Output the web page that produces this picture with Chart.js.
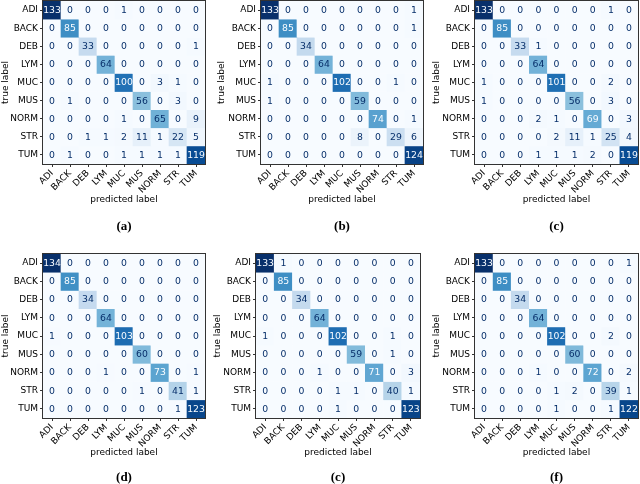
<!DOCTYPE html>
<html>
<head>
<meta charset="utf-8">
<script src="https://cdn.jsdelivr.net/npm/chart.js@4.4.0/dist/chart.umd.min.js"></script>
<style>
  body { margin: 0; background: #fff; }
  #page { position: relative; width: 640px; height: 484px; overflow: hidden; background: #fff; }
  #page canvas { position: absolute; left: 0; top: 0; }
  .cap { position: absolute; width: 60px; margin-left: -30px; text-align: center;
         font: bold 13px "Liberation Serif", serif; color: #000; line-height: 14px; }
</style>
</head>
<body>
<div id="page"></div>
<script>
// class names (rows = true label, columns = predicted label)
const classes = ['ADI', 'BACK', 'DEB', 'LYM', 'MUC', 'MUS', 'NORM', 'STR', 'TUM'];

const matrixA = [
    [133, 0, 0, 0, 1, 0, 0, 0, 0],
    [0, 85, 0, 0, 0, 0, 0, 0, 0],
    [0, 0, 33, 0, 0, 0, 0, 0, 1],
    [0, 0, 0, 64, 0, 0, 0, 0, 0],
    [0, 0, 0, 0, 100, 0, 3, 1, 0],
    [0, 1, 0, 0, 0, 56, 0, 3, 0],
    [0, 0, 0, 0, 1, 0, 65, 0, 9],
    [0, 0, 1, 1, 2, 11, 1, 22, 5],
    [0, 1, 0, 0, 1, 1, 1, 1, 119]
];
const matrixB = [
    [133, 0, 0, 0, 0, 0, 0, 0, 1],
    [0, 85, 0, 0, 0, 0, 0, 0, 1],
    [0, 0, 34, 0, 0, 0, 0, 0, 0],
    [0, 0, 0, 64, 0, 0, 0, 0, 0],
    [1, 0, 0, 0, 102, 0, 0, 1, 0],
    [1, 0, 0, 0, 0, 59, 0, 0, 0],
    [0, 0, 0, 0, 0, 0, 74, 0, 1],
    [0, 0, 0, 0, 0, 8, 0, 29, 6],
    [0, 0, 0, 0, 0, 0, 0, 0, 124]
];
const matrixC = [
    [133, 0, 0, 0, 0, 0, 0, 1, 0],
    [0, 85, 0, 0, 0, 0, 0, 0, 0],
    [0, 0, 33, 1, 0, 0, 0, 0, 0],
    [0, 0, 0, 64, 0, 0, 0, 0, 0],
    [1, 0, 0, 0, 101, 0, 0, 2, 0],
    [1, 0, 0, 0, 0, 56, 0, 3, 0],
    [0, 0, 0, 2, 1, 0, 69, 0, 3],
    [0, 0, 0, 0, 2, 11, 1, 25, 4],
    [0, 0, 0, 1, 1, 1, 2, 0, 119]
];
const matrixD = [
    [134, 0, 0, 0, 0, 0, 0, 0, 0],
    [0, 85, 0, 0, 0, 0, 0, 0, 0],
    [0, 0, 34, 0, 0, 0, 0, 0, 0],
    [0, 0, 0, 64, 0, 0, 0, 0, 0],
    [1, 0, 0, 0, 103, 0, 0, 0, 0],
    [0, 0, 0, 0, 0, 60, 0, 0, 0],
    [0, 0, 0, 1, 0, 0, 73, 0, 1],
    [0, 0, 0, 0, 0, 1, 0, 41, 1],
    [0, 0, 0, 0, 0, 0, 0, 1, 123]
];
const matrixE = [
    [133, 1, 0, 0, 0, 0, 0, 0, 0],
    [0, 85, 0, 0, 0, 0, 0, 0, 0],
    [0, 0, 34, 0, 0, 0, 0, 0, 0],
    [0, 0, 0, 64, 0, 0, 0, 0, 0],
    [1, 0, 0, 0, 102, 0, 0, 1, 0],
    [0, 0, 0, 0, 0, 59, 0, 1, 0],
    [0, 0, 0, 1, 0, 0, 71, 0, 3],
    [0, 0, 0, 0, 1, 1, 0, 40, 1],
    [0, 0, 0, 0, 1, 0, 0, 0, 123]
];
const matrixF = [
    [133, 0, 0, 0, 0, 0, 0, 0, 1],
    [0, 85, 0, 0, 0, 0, 0, 0, 0],
    [0, 0, 34, 0, 0, 0, 0, 0, 0],
    [0, 0, 0, 64, 0, 0, 0, 0, 0],
    [0, 0, 0, 0, 102, 0, 0, 2, 0],
    [0, 0, 0, 0, 0, 60, 0, 0, 0],
    [0, 0, 0, 1, 0, 0, 72, 0, 2],
    [0, 0, 0, 0, 1, 2, 0, 39, 1],
    [0, 0, 0, 0, 1, 0, 0, 1, 122]
];

const matrices = [matrixA, matrixB, matrixC, matrixD, matrixE, matrixF];
const captions = ['(a)', '(b)', '(c)', '(d)', '(c)', '(f)'];

// panel placement on the page (plot-box edges, y-title x, x-title y, caption y)
const panels = [
    { left: 43,  right: 205, top: 1,   bottom: 164, yTitleX: 6,   xTitleY: 200, capY: 226 },
    { left: 261, right: 423, top: 1,   bottom: 164, yTitleX: 222, xTitleY: 200, capY: 226 },
    { left: 475, right: 638, top: 1,   bottom: 164, yTitleX: 437, xTitleY: 200, capY: 226 },
    { left: 43,  right: 205, top: 254, bottom: 418, yTitleX: 6,   xTitleY: 453, capY: 477 },
    { left: 256, right: 420, top: 254, bottom: 418, yTitleX: 218, xTitleY: 453, capY: 477 },
    { left: 475, right: 638, top: 254, bottom: 418, yTitleX: 437, xTitleY: 453, capY: 477 }
];

const PAGE_W = 640, PAGE_H = 484;
const FONT = 'DejaVu Sans';
const titleFont = { family: FONT, size: 9 };
const tickFont = { family: FONT, size: 9 };
const cellFont = { family: FONT, size: 9.3 };

// matplotlib "Blues"
const bluesStops = [
    [247, 251, 255], [222, 235, 247], [198, 219, 239], [158, 202, 225], [107, 174, 214],
    [66, 146, 198], [33, 113, 181], [8, 81, 156], [8, 48, 107]
];

function blues(t) {
    t = Math.max(0, Math.min(1, t));
    const pos = t * (bluesStops.length - 1);
    const i = Math.min(Math.floor(pos), bluesStops.length - 2);
    const f = pos - i;
    const a = bluesStops[i], b = bluesStops[i + 1];
    const c = a.map((v, k) => Math.round(v + (b[k] - v) * f));
    return `rgb(${c[0]},${c[1]},${c[2]})`;
}

// writes the count in the middle of each cell
const cellTextPlugin = {
    id: 'cellText',
    afterDatasetsDraw(chart) {
        const ctx = chart.ctx;
        const matrix = chart.config.options.plugins.cellText.matrix;
        const maxVal = Math.max(...matrix.flat());
        ctx.save();
        ctx.font = `${cellFont.size}px "${cellFont.family}"`;
        ctx.textAlign = 'center';
        ctx.textBaseline = 'middle';
        chart.data.datasets.forEach((ds, row) => {
            const meta = chart.getDatasetMeta(row);
            meta.data.forEach((bar, col) => {
                const v = matrix[row][col];
                ctx.fillStyle = v >= maxVal / 2 ? '#f7fbff' : '#08306b';
                ctx.fillText(String(v), bar.x, (bar.y + bar.base) / 2 + 0.5);
            });
        });
        ctx.restore();
    }
};

// axes frame (spines)
const framePlugin = {
    id: 'frame',
    afterDraw(chart) {
        const a = chart.chartArea;
        const ctx = chart.ctx;
        ctx.save();
        ctx.strokeStyle = '#333';
        ctx.lineWidth = 1;
        ctx.strokeRect(Math.round(a.left) - 0.5, Math.round(a.top) - 0.5,
            Math.round(a.right - a.left) + 1, Math.round(a.bottom - a.top) + 1);
        ctx.restore();
    }
};

const page = document.getElementById('page');

matrices.forEach((matrix, idx) => {
    const p = panels[idx];
    const maxVal = Math.max(...matrix.flat());
    const titleLine = titleFont.size * 1.2;
    const axisLeft = Math.max(0, p.yTitleX - titleLine / 2);
    const axisBottom = p.xTitleY + titleLine / 2;
    const yWidth = p.left - axisLeft;
    const xHeight = axisBottom - p.bottom;

    const canvas = document.createElement('canvas');
    canvas.width = PAGE_W;
    canvas.height = PAGE_H;
    canvas.style.width = PAGE_W + 'px';
    canvas.style.height = PAGE_H + 'px';
    page.appendChild(canvas);

    const cap = document.createElement('div');
    cap.className = 'cap';
    cap.textContent = captions[idx];
    cap.style.left = ((p.left + p.right) / 2) + 'px';
    cap.style.top = (p.capY - 7) + 'px';
    page.appendChild(cap);

    // one floating-bar dataset per true-label row, spanning [row, row + 1]
    const datasets = classes.map((name, row) => ({
        label: name,
        data: classes.map(() => [row, row + 1]),
        backgroundColor: matrix[row].map(v => blues(v / maxVal)),
        borderWidth: 0
    }));

    new Chart(canvas, {
        type: 'bar',
        data: { labels: classes, datasets: datasets },
        plugins: [cellTextPlugin, framePlugin],
        options: {
            responsive: false,
            animation: false,
            events: [],
            devicePixelRatio: 1,
            layout: {
                padding: {
                    left: axisLeft,
                    right: PAGE_W - p.right,
                    top: p.top,
                    bottom: PAGE_H - axisBottom
                }
            },
            datasets: {
                bar: { grouped: false, barPercentage: 1, categoryPercentage: 1 }
            },
            plugins: {
                legend: { display: false },
                tooltip: { enabled: false },
                cellText: { matrix: matrix }
            },
            scales: {
                x: {
                    type: 'category',
                    position: 'bottom',
                    grid: { drawOnChartArea: false, drawTicks: true, tickLength: 3, offset: false, color: '#333' },
                    border: { display: false },
                    ticks: { minRotation: 45, maxRotation: 45, autoSkip: false, padding: 1, color: '#000', font: tickFont },
                    title: { display: true, text: 'predicted label', color: '#000', font: titleFont, padding: 0 },
                    afterFit: (s) => { s.height = xHeight; s.paddingLeft = 0; s.paddingRight = 0; }
                },
                y: {
                    type: 'linear',
                    reverse: true,
                    min: 0,
                    max: classes.length,
                    afterBuildTicks: (s) => { s.ticks = classes.map((c, i) => ({ value: i + 0.5 })); },
                    grid: { drawOnChartArea: false, drawTicks: true, tickLength: 3, color: '#333' },
                    border: { display: false },
                    ticks: {
                        padding: 2, color: '#000', font: tickFont,
                        callback: (v, i) => classes[i]
                    },
                    title: { display: true, text: 'true label', color: '#000', font: titleFont, padding: 0 },
                    afterFit: (s) => { s.width = yWidth; s.paddingTop = 0; s.paddingBottom = 0; }
                }
            }
        }
    });
});
</script>
</body>
</html>
